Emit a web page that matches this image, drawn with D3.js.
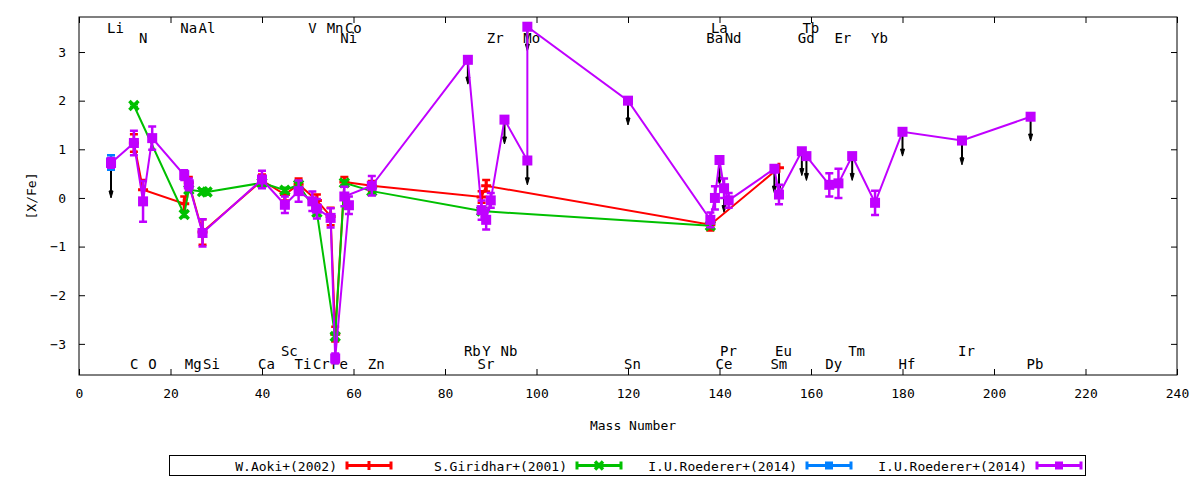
<!DOCTYPE html>
<html>
<head>
<meta charset="utf-8">
<script src="https://cdn.jsdelivr.net/npm/d3@7"></script>
<style>
  body { margin: 0; background: #fff; }
  svg text { font-family: 'DejaVu Sans Mono', monospace; fill: #000; }
</style>
</head>
<body>
<svg id="chart"></svg>
<script>
// element symbol -> mass number used on the x axis
const elements = ['Li','C','N','O','Na','Mg','Al','Si','Ca','Sc','Ti','V','Cr','Mn','Fe','Co','Ni','Zn',
  'Rb','Sr','Y','Zr','Nb','Mo','Sn','Ba','La','Ce','Pr','Nd','Sm','Eu','Gd','Tb','Dy','Er','Tm','Yb','Hf','Ir','Pb'];
const massNumbers = [7,12,14,16,23,24,27,28,40,45,48,51,52,55,56,59,58,64,
  85,88,89,90,93,98,120,138,139,140,141,142,152,153,158,159,164,166,169,174,180,193,208];

// element labels, four rows
const labelsTop1 = ['Li','Na','Al','V','Mn','Co','La','Tb'];
const labelsTop2 = ['N','Ni','Zr','Mo','Ba','Nd','Gd','Er','Yb'];
const labelsBottom1 = ['Sc','Rb','Y','Nb','Pr','Eu','Tm','Ir'];
const labelsBottom2 = ['C','O','Mg','Si','Ca','Ti','Cr','Fe','Zn','Sr','Sn','Ce','Sm','Dy','Hf','Pb'];

const xTicks = [0,20,40,60,80,100,120,140,160,180,200,220,240];
const yTicks = [-3,-2,-1,0,1,2,3];

// [element, [X/Fe], error]
const aoki2002 = [
  ['C',1.13,0.18],['N',0.17,0.2],['Na',-0.12,0.15],['Mg',0.31,0.12],['Al',-0.7,0.26],
  ['Ca',0.36,0.12],['Sc',0.07,0.12],['Ti',0.28,0.12],['Cr',-0.05,0.12],['Mn',-0.38,0.18],
  ['Fe',-2.8,0.15],['Ni',0.33,0.1],['Zn',0.25,0.1],['Sr',0.02,0.12],['Y',0.25,0.12],
  ['Ba',-0.55,0.12],['Eu',0.62,0.0]
];
const giridhar2001 = [
  ['C',1.9,0.03],['Na',-0.34,0.05],['Mg',0.17,0.05],['Al',0.13,0.05],['Si',0.12,0.05],
  ['Ca',0.31,0.05],['Sc',0.16,0.05],['Ti',0.27,0.05],['Cr',-0.3,0.05],['Fe',-2.85,0.05],
  ['Ni',0.31,0.05],['Zn',0.14,0.05],['Sr',-0.27,0.05],['Ba',-0.57,0.05]
];
const roedererLi = [['Li',0.73,0.15]];
const roederer2014 = [
  ['Li',0.72,0.1],['C',1.13,0.25],['N',-0.07,0.42],['O',1.23,0.24],['Na',0.47,0.1],
  ['Mg',0.28,0.12],['Al',-0.72,0.28],['Ca',0.38,0.18],['Sc',-0.14,0.17],['Ti',0.14,0.22],
  ['V',-0.07,0.2],['Cr',-0.22,0.2],['Mn',-0.41,0.2],['Fe',-3.3,0.1],['Co',-0.15,0.18],
  ['Ni',0.03,0.2],['Zn',0.25,0.2],['Rb',2.84,0],['Sr',-0.25,0.2],['Y',-0.45,0.2],
  ['Zr',-0.05,0.15],['Nb',1.61,0],['Mo',0.77,0],['Mo',3.52,0],['Sn',2.0,0],
  ['Ba',-0.45,0.15],['La',0.0,0.24],['Ce',0.78,0],['Pr',0.2,0.2],['Nd',-0.05,0.15],
  ['Sm',0.6,0],['Eu',0.07,0.2],['Gd',0.96,0],['Tb',0.86,0],['Dy',0.27,0.24],
  ['Er',0.3,0.3],['Tm',0.86,0],['Yb',-0.1,0.25],['Hf',1.36,0],['Ir',1.18,0],['Pb',1.67,0]
];
// upper limits: [element, value, drop of the arrow]
const upperLimits = [
  ['Li',0.73,0.73],['Rb',2.84,0.5],['Nb',1.61,0.5],['Mo',3.52,0.5],['Mo',0.77,0.5],
  ['Sn',2.0,0.5],['Ce',0.78,0.5],['Pr',0.2,0.5],['Sm',0.6,0.5],['Eu',0.62,0.5],
  ['Gd',0.96,0.5],['Tb',0.86,0.5],['Tm',0.86,0.5],['Hf',1.36,0.5],['Ir',1.18,0.5],['Pb',1.67,0.5]
];
const seriesNames = ['W.Aoki+(2002)','S.Giridhar+(2001)','I.U.Roederer+(2014)','I.U.Roederer+(2014)'];

const massOf = {};
elements.forEach((e, i) => massOf[e] = massNumbers[i]);

class AbundanceChart {

  constructor(_config) {
    this.config = {
      parentElement: _config.parentElement,
      containerWidth: 1200,
      containerHeight: 480,
      plot: { left: 79, right: 1177, top: 17, bottom: 375 },
      xDomain: [0, 240],
      yDomain: [-3.64, 3.72],
      labelRows: { top1: 3.39, top2: 3.18, bottom1: -3.24, bottom2: -3.52 }
    };
    this.initVis();
  }

  initVis() {
    let vis = this;
    const p = vis.config.plot;

    vis.svg = d3.select(vis.config.parentElement)
        .attr('width', vis.config.containerWidth)
        .attr('height', vis.config.containerHeight);

    vis.x = d3.scaleLinear().domain(vis.config.xDomain).range([p.left, p.right]);
    vis.y = d3.scaleLinear().domain(vis.config.yDomain).range([p.bottom, p.top]);

    // axes with inward ticks on all four sides
    const fmt = d3.format('d');
    vis.svg.append('g').attr('class', 'axis')
        .attr('transform', `translate(0,${p.bottom})`)
        .call(d3.axisBottom(vis.x).tickValues(xTicks).tickFormat(fmt).tickSizeInner(-6).tickSizeOuter(0).tickPadding(14));
    vis.svg.append('g').attr('class', 'axis')
        .attr('transform', `translate(0,${p.top})`)
        .call(d3.axisTop(vis.x).tickValues(xTicks).tickFormat('').tickSizeInner(-6).tickSizeOuter(0));
    vis.svg.append('g').attr('class', 'axis')
        .attr('transform', `translate(${p.left},0)`)
        .call(d3.axisLeft(vis.y).tickValues(yTicks).tickFormat(fmt).tickSizeInner(-6).tickSizeOuter(0).tickPadding(13));
    vis.svg.append('g').attr('class', 'axis')
        .attr('transform', `translate(${p.right},0)`)
        .call(d3.axisRight(vis.y).tickValues(yTicks).tickFormat('').tickSizeInner(-6).tickSizeOuter(0));

    vis.svg.selectAll('.axis .domain').remove();
    vis.svg.selectAll('.axis line').attr('stroke', '#000');
    vis.svg.selectAll('.axis text').style('font-size', '13px').style('font-family', "'DejaVu Sans Mono', monospace");

    vis.svg.append('rect')
        .attr('x', p.left).attr('y', p.top)
        .attr('width', p.right - p.left).attr('height', p.bottom - p.top)
        .attr('fill', 'none').attr('stroke', '#000').attr('stroke-width', 1);

    vis.svg.append('text')
        .attr('x', (p.left + p.right) / 2 + 5).attr('y', 430)
        .attr('text-anchor', 'middle').style('font-size', '13px')
        .text('Mass Number');
    vis.svg.append('text')
        .attr('transform', `translate(36,${(p.top + p.bottom) / 2}) rotate(-90)`)
        .attr('text-anchor', 'middle').style('font-size', '13px')
        .text('[X/Fe]');

    vis.chart = vis.svg.append('g');
  }

  drawLabels(names, yVal) {
    let vis = this;
    vis.chart.append('g').selectAll('text')
        .data(names)
      .join('text')
        .attr('x', d => vis.x(massOf[d]) - 4)
        .attr('y', vis.y(yVal))
        .style('font-size', '14px')
        .text(d => d);
  }

  drawMarker(g, type, color, size) {
    if (type === 'square') {
      g.append('rect').attr('x', -size / 2).attr('y', -size / 2)
          .attr('width', size).attr('height', size).attr('fill', color);
    } else if (type === 'plus') {
      g.append('path').attr('d', `M${-size / 2},0H${size / 2}M0,${-size / 2}V${size / 2}`)
          .attr('stroke', color).attr('stroke-width', 3);
    } else {
      g.append('path').attr('d', `M${-size / 2},${-size / 2}L${size / 2},${size / 2}M${-size / 2},${size / 2}L${size / 2},${-size / 2}`)
          .attr('stroke', color).attr('stroke-width', 3.5);
    }
  }

  drawSeries(data, color, marker, size) {
    let vis = this;
    const g = vis.chart.append('g');
    const line = d3.line().x(d => vis.x(massOf[d[0]])).y(d => vis.y(d[1]));

    g.append('path').datum(data)
        .attr('d', line).attr('fill', 'none')
        .attr('stroke', color).attr('stroke-width', 2);

    const bars = data.filter(d => d[2] > 0);
    g.selectAll('.ebar').data(bars).join('path')
        .attr('class', 'ebar')
        .attr('d', d => {
          const cx = vis.x(massOf[d[0]]);
          const y1 = vis.y(d[1] + d[2]), y2 = vis.y(d[1] - d[2]);
          return `M${cx},${y1}V${y2}M${cx - 4},${y1}H${cx + 4}M${cx - 4},${y2}H${cx + 4}`;
        })
        .attr('fill', 'none').attr('stroke', color).attr('stroke-width', 2.5);

    g.selectAll('.pt').data(data).join('g')
        .attr('class', 'pt')
        .attr('transform', d => `translate(${vis.x(massOf[d[0]])},${vis.y(d[1])})`)
        .each(function() { vis.drawMarker(d3.select(this), marker, color, size); });
  }

  drawUpperLimits() {
    let vis = this;
    const g = vis.chart.append('g');
    upperLimits.forEach(d => {
      const cx = vis.x(massOf[d[0]]);
      const y1 = vis.y(d[1]), y2 = vis.y(d[1] - d[2]);
      g.append('line').attr('x1', cx).attr('x2', cx).attr('y1', y1).attr('y2', y2 - 5)
          .attr('stroke', '#000').attr('stroke-width', 2);
      g.append('path').attr('d', `M${cx - 2},${y2 - 7}L${cx + 2},${y2 - 7}L${cx},${y2}Z`)
          .attr('fill', '#000').attr('stroke', '#000').attr('stroke-width', 1);
    });
  }

  drawLegend() {
    let vis = this;
    const lg = vis.svg.append('g');
    lg.append('rect').attr('x', 169.5).attr('y', 455.5).attr('width', 916).attr('height', 20)
        .attr('fill', 'none').attr('stroke', '#000').attr('stroke-width', 1);
    const styles = [['#ff0000', 'plus', 9], ['#00c000', 'cross', 8], ['#0080ff', 'square', 8], ['#c000ff', 'square', 8]];
    seriesNames.forEach((name, i) => {
      const textEnd = 337 + i * 230;
      const x0 = textEnd + 10, x1 = x0 + 44, cy = 465.5;
      lg.append('text').attr('x', textEnd).attr('y', cy + 5)
          .attr('text-anchor', 'end').style('font-size', '13px').text(name);
      lg.append('path')
          .attr('d', `M${x0},${cy}H${x1}M${x0},${cy - 4}V${cy + 4}M${x1},${cy - 4}V${cy + 4}`)
          .attr('fill', 'none').attr('stroke', styles[i][0]).attr('stroke-width', 3);
      const m = lg.append('g').attr('transform', `translate(${(x0 + x1) / 2},${cy})`);
      vis.drawMarker(m, styles[i][1], styles[i][0], styles[i][2]);
    });
  }

  renderVis() {
    let vis = this;
    const r = vis.config.labelRows;
    vis.drawLabels(labelsTop1, r.top1);
    vis.drawLabels(labelsTop2, r.top2);
    vis.drawLabels(labelsBottom1, r.bottom1);
    vis.drawLabels(labelsBottom2, r.bottom2);

    vis.drawUpperLimits();
    vis.drawSeries(aoki2002, '#ff0000', 'plus', 10);
    vis.drawSeries(giridhar2001, '#00c000', 'cross', 9);
    vis.drawSeries(roedererLi, '#0080ff', 'square', 10);
    vis.drawSeries(roederer2014, '#c000ff', 'square', 10);
    vis.drawLegend();
  }
}

const chart = new AbundanceChart({ parentElement: '#chart' });
chart.renderVis();
</script>
</body>
</html>
